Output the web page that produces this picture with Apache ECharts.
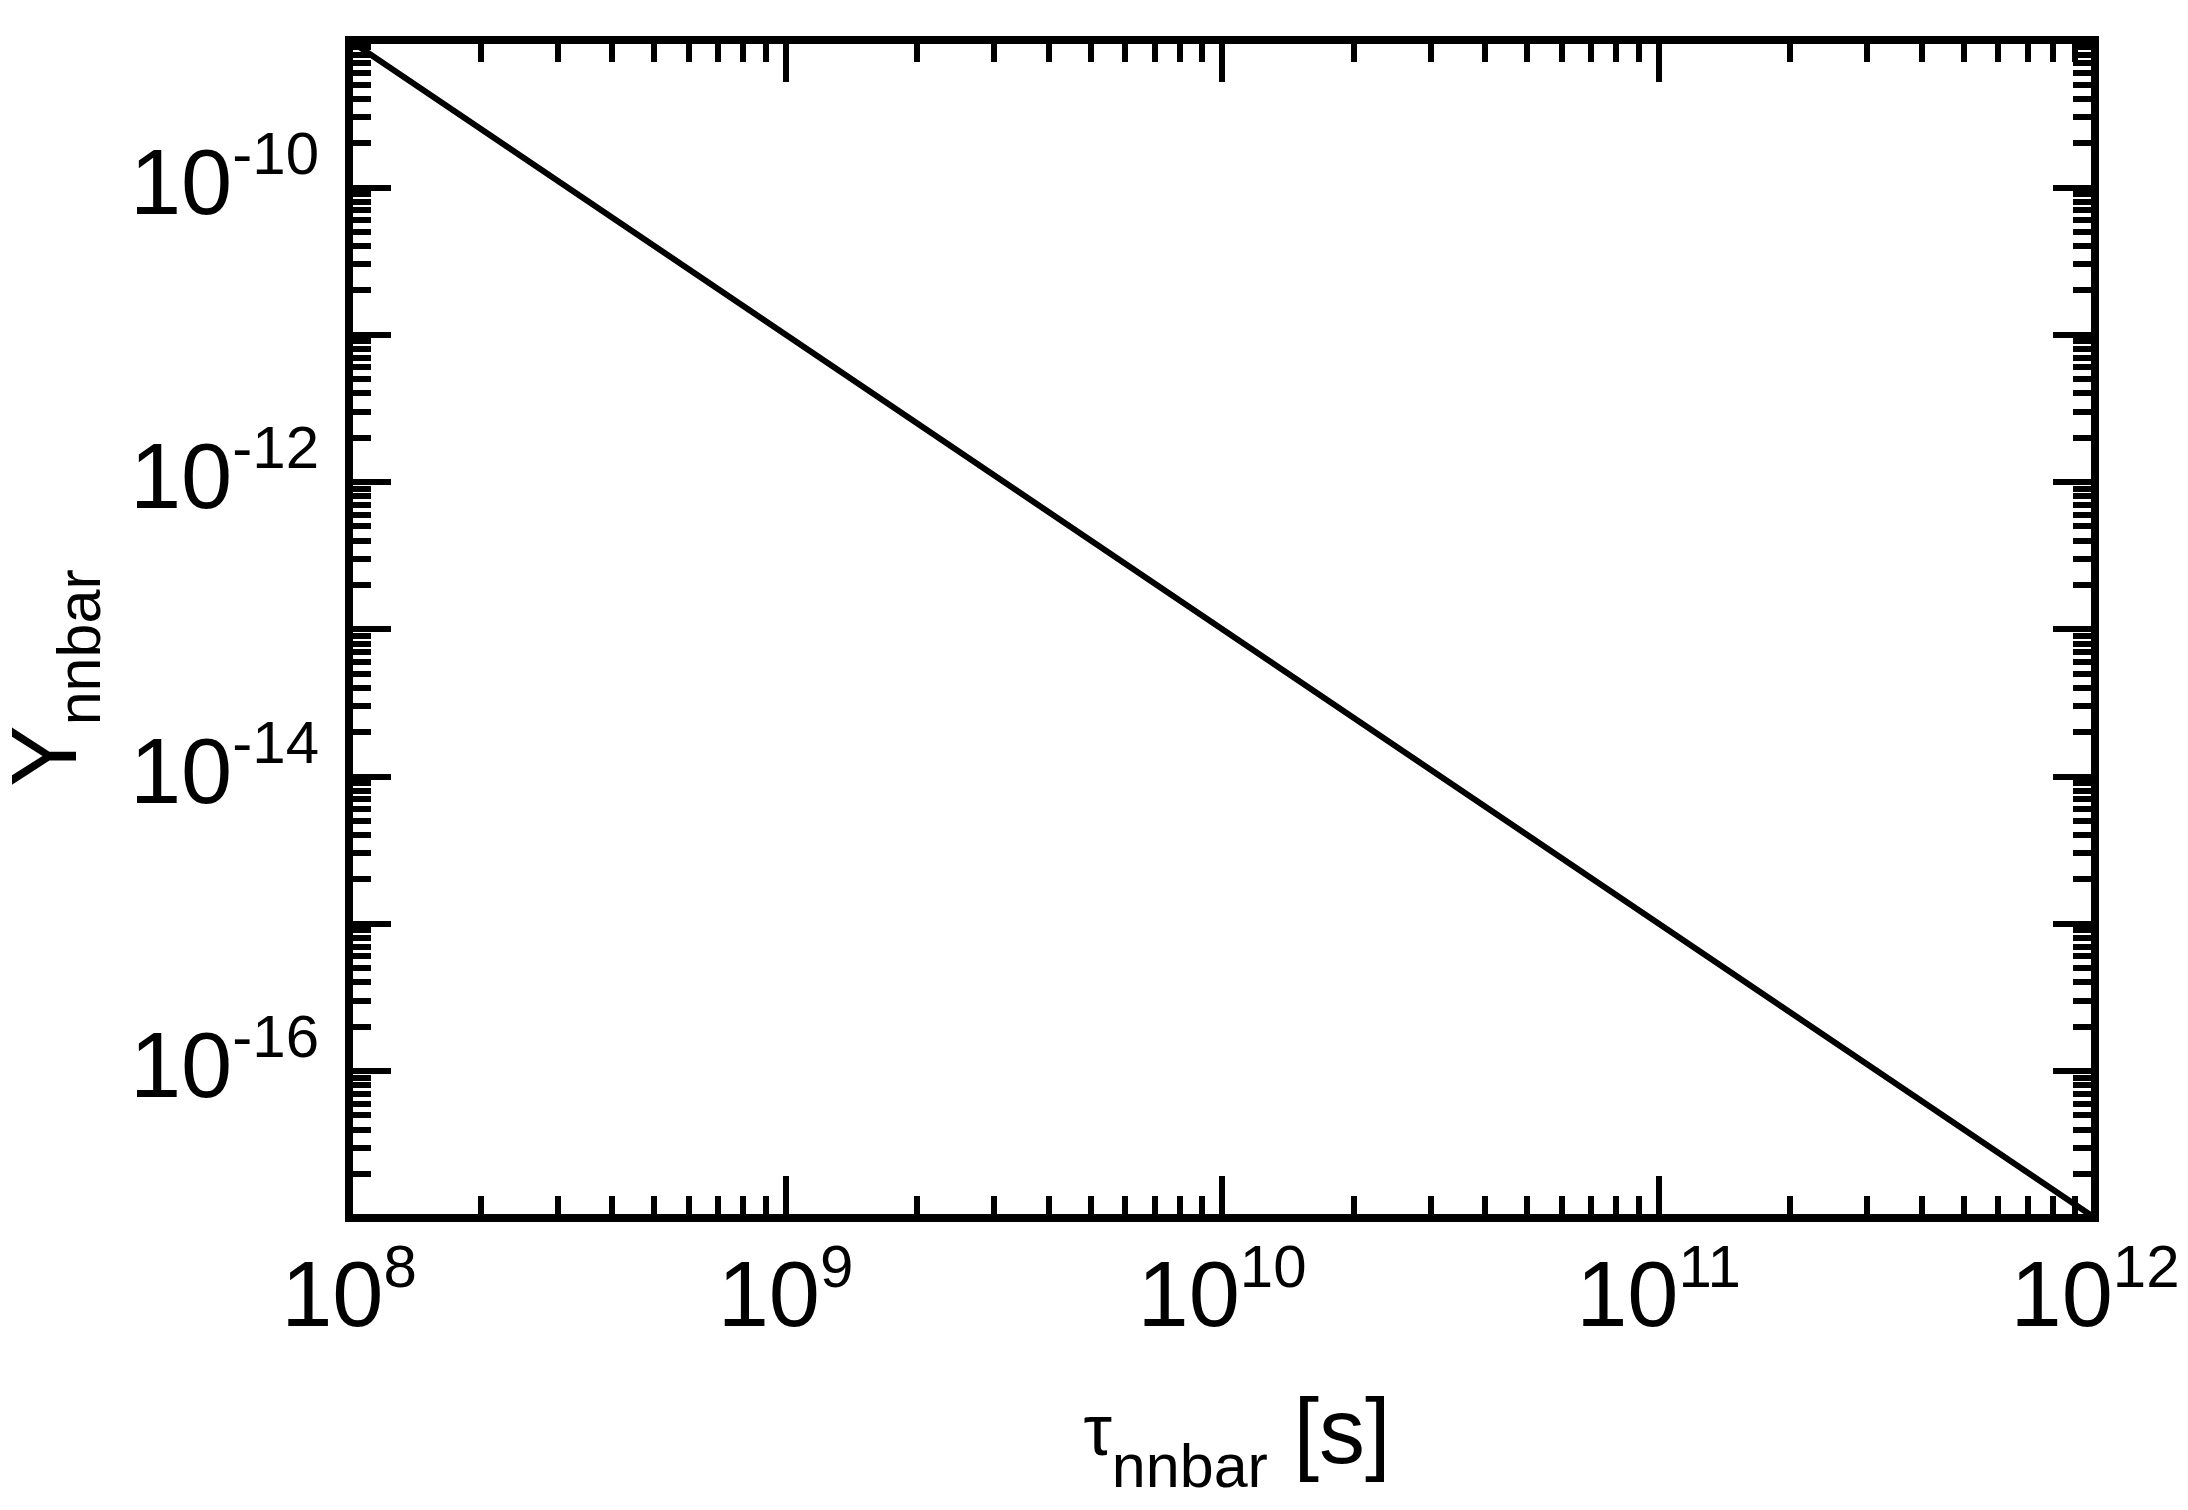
<!DOCTYPE html>
<html>
<head>
<meta charset="utf-8">
<script src="https://cdn.jsdelivr.net/npm/echarts@6/dist/echarts.min.js"></script>
<style>
  html, body { margin: 0; padding: 0; background: #fff; }
  #chart { width: 2188px; height: 1510px; }
</style>
</head>
<body>
<div id="chart"></div>
<script>
// data (log-log straight line)
var tauValues = [1e8, 1e9, 1e10, 1e11, 1e12]
var yValues = [1e-9, 1e-11, 1e-13, 1e-15, 1e-17]

// ticks
var xDecades = [1e8, 1e9, 1e10, 1e11, 1e12]
var xLabelValues = [1e8, 1e9, 1e10, 1e11, 1e12]
var yDecades = [1e-17, 1e-16, 1e-15, 1e-14, 1e-13, 1e-12, 1e-11, 1e-10, 1e-9]
var yLabelValues = [1e-16, 1e-14, 1e-12, 1e-10]
var minorSteps = [2, 3, 4, 5, 6, 7, 8, 9]

function minorTicks(decades) {
  var out = []
  for (var i = 0; i < decades.length - 1; i++) {
    for (var j = 0; j < minorSteps.length; j++) {
      out.push(minorSteps[j] * decades[i])
    }
  }
  return out
}
var xMinor = minorTicks(xDecades)
var yMinor = minorTicks(yDecades)

var FONT = '"Liberation Sans", Arial, sans-serif'
// tick labels: 10 with raised exponent
var labelRich = {
  b: { fontFamily: FONT, fontSize: 92, lineHeight: 122, color: '#000', verticalAlign: 'bottom' },
  s: { fontFamily: FONT, fontSize: 60, lineHeight: 70, color: '#000', verticalAlign: 'top', padding: [15, 0, 0, 0] }
}
function powLabel(value) {
  var e = Math.round(Math.log10(value))
  return '{b|10}{s|' + e + '}'
}
// axis titles with lowered subscript
var nameRich = {
  t: { fontFamily: FONT, fontSize: 72, color: '#000', verticalAlign: 'top', padding: [7, 0, 0, 0] },
  Y: { fontFamily: FONT, fontSize: 92, color: '#000', verticalAlign: 'top' },
  b: { fontFamily: FONT, fontSize: 92, color: '#000', verticalAlign: 'top' },
  sub: { fontFamily: FONT, fontSize: 61, color: '#000', verticalAlign: 'top', padding: [48, 0, 0, 0] }
}

var frameLine = { show: true, onZero: false, lineStyle: { color: '#000', width: 8, cap: 'square' } }
var noLine = { show: false, onZero: false }

function majorTick(vals) {
  return { show: true, inside: true, length: 42, customValues: vals, lineStyle: { color: '#000', width: 6 } }
}
function minorTick(vals) {
  return { show: true, inside: true, length: 22, customValues: vals, lineStyle: { color: '#000', width: 6 } }
}

var gridBox = { left: 349, top: 40, right: 93, bottom: 292, containLabel: false, outerBoundsMode: 'none' }

var chart = echarts.init(document.getElementById('chart'))
chart.setOption({
  animation: false,
  backgroundColor: '#fff',
  grid: [
    Object.assign({}, gridBox),
    Object.assign({}, gridBox)
  ],
  xAxis: [
    {
      gridIndex: 0, type: 'log', logBase: 10, position: 'bottom',
      min: 1e8, max: 1e12,
      axisLine: frameLine,
      axisTick: majorTick(xDecades),
      splitLine: { show: false },
      minorTick: { show: false },
      axisLabel: {
        customValues: xLabelValues, margin: 7, formatter: powLabel, rich: labelRich,
        showMinLabel: true, showMaxLabel: true, hideOverlap: false
      },
      name: '{t|τ}{sub|nnbar}{b| [s]}',
      nameLocation: 'middle',
      nameGap: 174,
      nameTextStyle: { fontFamily: FONT, rich: nameRich, padding: [0, 0, 0, 30] }
    },
    {
      gridIndex: 0, type: 'log', logBase: 10, position: 'top',
      min: 1e8, max: 1e12,
      axisLine: frameLine,
      axisTick: majorTick(xDecades),
      splitLine: { show: false },
      axisLabel: { show: false }
    },
    {
      gridIndex: 1, type: 'log', logBase: 10, position: 'bottom',
      min: 1e8, max: 1e12,
      axisLine: noLine,
      axisTick: minorTick(xMinor),
      splitLine: { show: false },
      axisLabel: { show: false }
    },
    {
      gridIndex: 1, type: 'log', logBase: 10, position: 'top',
      min: 1e8, max: 1e12,
      axisLine: noLine,
      axisTick: minorTick(xMinor),
      splitLine: { show: false },
      axisLabel: { show: false }
    }
  ],
  yAxis: [
    {
      gridIndex: 0, type: 'log', logBase: 10, position: 'left',
      min: 1e-17, max: 1e-9,
      axisLine: frameLine,
      axisTick: majorTick(yDecades),
      splitLine: { show: false },
      minorTick: { show: false },
      axisLabel: {
        customValues: yLabelValues, margin: 30, formatter: powLabel, rich: labelRich,
        padding: [0, 0, 28, 0], hideOverlap: false
      },
      name: '{Y|Y}{sub|nnbar}',
      nameLocation: 'middle',
      nameGap: 235,
      nameTextStyle: { fontFamily: FONT, rich: nameRich, padding: [0, 98, 0, 0] }
    },
    {
      gridIndex: 0, type: 'log', logBase: 10, position: 'right',
      min: 1e-17, max: 1e-9,
      axisLine: frameLine,
      axisTick: majorTick(yDecades),
      splitLine: { show: false },
      axisLabel: { show: false }
    },
    {
      gridIndex: 1, type: 'log', logBase: 10, position: 'left',
      min: 1e-17, max: 1e-9,
      axisLine: noLine,
      axisTick: minorTick(yMinor),
      splitLine: { show: false },
      axisLabel: { show: false }
    },
    {
      gridIndex: 1, type: 'log', logBase: 10, position: 'right',
      min: 1e-17, max: 1e-9,
      axisLine: noLine,
      axisTick: minorTick(yMinor),
      splitLine: { show: false },
      axisLabel: { show: false }
    }
  ],
  series: [
    {
      type: 'line',
      xAxisIndex: 0,
      yAxisIndex: 0,
      data: tauValues.map(function (t, i) { return [t, yValues[i]] }),
      showSymbol: false,
      symbol: 'none',
      lineStyle: { color: '#000', width: 6 },
      clip: true
    }
  ]
})
</script>
</body>
</html>
